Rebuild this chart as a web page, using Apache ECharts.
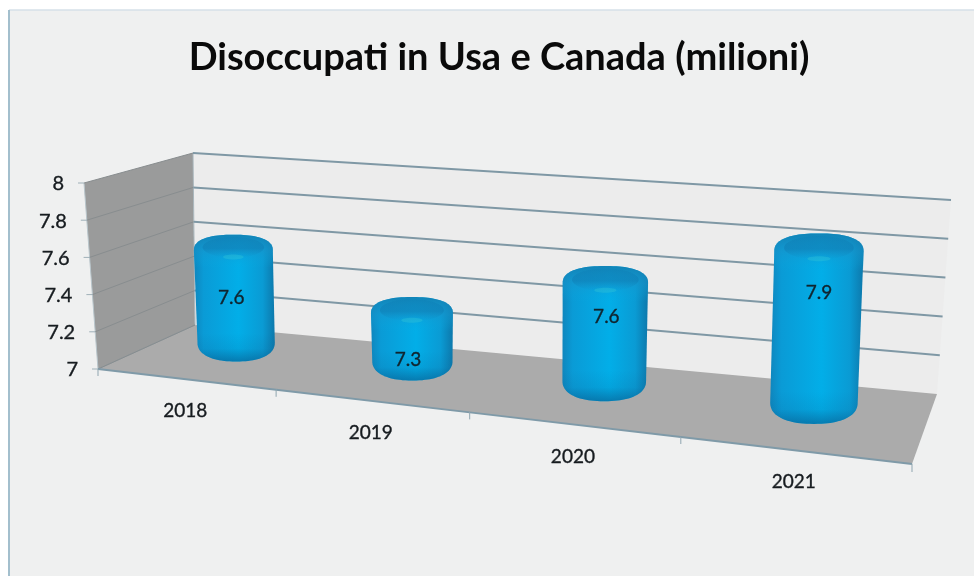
<!DOCTYPE html>
<html>
<head>
<meta charset="utf-8">
<style>html,body{margin:0;padding:0;background:#fff}#chart{width:974px;height:576px}</style>
<script src="https://cdn.jsdelivr.net/npm/echarts@6/dist/echarts.min.js"></script>
</head>
<body>
<div id="chart"></div>
<script>
// Chart content
const chartTitle = 'Disoccupati in Usa e Canada (milioni)';
const years = ['2018', '2019', '2020', '2021'];
const unemployed = [7.6, 7.3, 7.6, 7.9];
const valueTicks = [7, 7.2, 7.4, 7.6, 7.8, 8];
const valueTickLabels = ['7', '7.2', '7.4', '7.6', '7.8', '8'];

// Perspective box: corners of the front and back planes in screen space
const frontPlane = { bl: [98, 369], br: [912, 464], tl: [84, 183], tr: [914, 254] };
const backPlane = { bl: [195, 325], br: [937, 394], tl: [193, 153], tr: [951, 200] };
const foreshorten = 1.19;   // horizontal perspective along the value-axis planes
const barDepth = 0.57;      // where the cylinders stand between front and back
const barLift = 10;         // cylinders sit slightly raised on the floor
const barHeightScale = 0.85;
const barHalfWidth = 0.06;  // half width as a share of the whole category axis
const labelDrop = [47, 46, 34, 42];
const labelShift = [-2, -4, 1, 0];

const lerp = (a, b, t) => [a[0] + (b[0] - a[0]) * t, a[1] + (b[1] - a[1]) * t];
const warp = u => u / (u + foreshorten * (1 - u));

function project(u, v, d) {
  const w = warp(u);
  const onPlane = p => lerp(lerp(p.bl, p.br, w), lerp(p.tl, p.tr, w), v);
  return lerp(onPlane(frontPlane), onPlane(backPlane), d);
}

// Reads the axes' own scales and returns position as a share of the plot box
function unit(params, api, dataPoint) {
  const c = api.coord(dataPoint);
  const s = params.coordSys;
  return { u: (c[0] - s.x) / s.width, v: 1 - (c[1] - s.y) / s.height };
}

const fontFamily = 'Lato, "Open Sans", sans-serif';
const line = (a, b, stroke, width) => ({
  type: 'line',
  shape: { x1: a[0], y1: a[1], x2: b[0], y2: b[1] },
  style: { stroke, lineWidth: width }
});
const poly = (points, fill) => ({ type: 'polygon', shape: { points }, style: { fill } });
const label = (text, x, y, align, size, fill) => ({
  type: 'text',
  style: {
    text, x, y, align, verticalAlign: 'middle',
    font: 'normal ' + size + 'px ' + fontFamily,
    fill, stroke: fill, lineWidth: 0.35
  }
});

function renderBox() {
  return {
    type: 'group',
    children: [
      poly([project(0, 0, 0), project(0, 1, 0), project(0, 1, 1), project(0, 0, 1)], '#9a9b9b'),
      poly([project(0, 0, 1), project(0, 1, 1), project(1, 1, 1), project(1, 0, 1)], '#ececec'),
      poly([project(0, 0, 0), project(1, 0, 0), project(1, 0, 1), project(0, 0, 1)], '#ababab'),
      line(project(0, 1, 1), project(0, 0, 1), '#a9b6bc', 1),
      line(project(0, 0, 0), project(0, 1, 0), '#b9c6cc', 1),
      line(project(0, 0, 0), project(0, 0, 1), '#8d9aa0', 1)
    ]
  };
}

function renderValueTick(params, api) {
  const val = api.value(1);
  const p = unit(params, api, [0, val]);
  const a = project(0, p.v, 0);
  const b = project(0, p.v, 1);
  const c = project(1, p.v, 1);
  const children = [
    line(a, b, '#888d8f', 1),
    line([a[0] - 6, a[1]], a, '#9fb0b8', 1),
    label(valueTickLabels[params.dataIndex], a[0] - 20, a[1] + 1, 'right', 20, '#161b1f')
  ];
  if (val > valueTicks[0]) children.push(line(b, c, '#7f98a5', 2));
  return { type: 'group', children };
}

function renderCategory(params, api) {
  const p = unit(params, api, [api.value(0), 7]);
  const at = project(p.u, 0, 0);
  const step = 1 / years.length;
  const left = project(p.u - step / 2, 0, 0);
  const right = project(p.u + step / 2, 0, 0);
  const children = [
    line(left, right, '#7f9aa8', 2),
    line(left, [left[0], left[1] + 7], '#8fa5b0', 1),
    label(years[params.dataIndex], at[0], at[1] + 32, 'center', 19, '#161b1f')
  ];
  if (params.dataIndex === years.length - 1) {
    children.push(line(right, [right[0], right[1] + 8], '#8fa5b0', 1));
  }
  return { type: 'group', children };
}

// Half outline of a cap; squarish exponents give the cylinder its rounded shoulders
function capArc(cx, cy, rx, ry, exponent, upper) {
  const pts = [];
  for (let i = 0; i <= 48; i++) {
    const t = Math.PI * i / 48;
    const cos = Math.cos(t), sin = Math.sin(t);
    const x = Math.sign(cos) * Math.pow(Math.abs(cos), 2 / exponent);
    const y = Math.pow(sin, 2 / exponent);
    pts.push([cx - rx * x, cy + (upper ? -1 : 1) * ry * y]);
  }
  return upper ? pts : pts.reverse();
}

function renderBar(params, api) {
  const idx = api.value(0);
  const val = api.value(1);
  const base = unit(params, api, [idx, 7]);
  const top = unit(params, api, [idx, val]);
  const bottomPt = project(base.u, 0, barDepth);
  const topPt = project(top.u, top.v * barHeightScale, barDepth);
  const l = project(base.u - barHalfWidth, 0, barDepth);
  const r = project(base.u + barHalfWidth, 0, barDepth);
  // The cylinders widen more gently towards the viewer than the floor does
  const rx = 22 + 0.43 * (r[0] - l[0]) / 2;
  const bx = bottomPt[0], by = bottomPt[1] - barLift;
  const tx = topPt[0], ty = topPt[1] - barLift;
  const ryTop = rx * 0.4, ryBottom = rx * 0.48;

  const upper = capArc(tx, ty, rx, ryTop, 2.4, true);
  const lower = capArc(bx, by, rx * 0.98, ryBottom, 2.3, false);
  const outline = upper.concat(lower);
  const G = echarts.graphic.LinearGradient;

  const body = poly(outline, new G(0, 0, 1, 0, [
    { offset: 0, color: '#0f86bd' },
    { offset: 0.12, color: '#0a9bd6' },
    { offset: 0.55, color: '#02aee8' },
    { offset: 0.85, color: '#0a9bd4' },
    { offset: 1, color: '#0d78ab' }
  ]));
  // Shading that wraps under the base and around the shoulder
  const under = poly(
    [[bx + rx * 0.98, by - ryBottom * 0.5]].concat(lower).concat([[bx - rx * 0.98, by - ryBottom * 0.5]]),
    new G(0, 0, 0, 1, [
      { offset: 0, color: 'rgba(8,90,140,0)' },
      { offset: 0.55, color: 'rgba(8,90,140,0.12)' },
      { offset: 1, color: 'rgba(8,90,140,0.6)' }
    ])
  );
  const shoulder = poly(upper.concat([[tx + rx, ty + ryTop * 1.1], [tx - rx, ty + ryTop * 1.1]]), new G(0, 0, 0, 1, [
    { offset: 0, color: 'rgba(20,125,175,0.85)' },
    { offset: 0.5, color: 'rgba(22,150,205,0.55)' },
    { offset: 1, color: 'rgba(10,170,225,0)' }
  ]));
  const cap = {
    type: 'ellipse',
    shape: { cx: tx, cy: ty - ryTop * 0.2, rx: rx * 0.78, ry: ryTop * 0.66 },
    style: {
      fill: new G(0, 0, 0, 1, [
        { offset: 0, color: 'rgba(14,125,180,0.35)' },
        { offset: 0.55, color: 'rgba(14,125,180,0.55)' },
        { offset: 1, color: 'rgba(14,140,195,0)' }
      ])
    }
  };
  const glint = {
    type: 'ellipse',
    shape: { cx: tx, cy: ty + ryTop * 0.42, rx: rx * 0.26, ry: 2.5 },
    style: { fill: 'rgba(50,195,215,0.4)' }
  };
  const valueLabel = label(
    val.toFixed(1),
    tx + labelShift[params.dataIndex],
    ty + labelDrop[params.dataIndex],
    'center', 19, '#10242e'
  );
  return { type: 'group', children: [body, under, shoulder, cap, glint, valueLabel] };
}

const chart = echarts.init(document.getElementById('chart'), null, { renderer: 'canvas' });
chart.setOption({
  animation: false,
  backgroundColor: '#ffffff',
  title: {
    text: chartTitle,
    left: 494,
    top: 34,
    textAlign: 'center',
    textStyle: { fontFamily, fontWeight: 'bold', fontSize: 38, color: '#0a0a0a' }
  },
  graphic: {
    elements: [
      { type: 'rect', z: -10, shape: { x: 9, y: 10, width: 970, height: 570 }, style: { fill: '#eff0f0' } },
      { type: 'line', z: -9, shape: { x1: 9, y1: 10, x2: 974, y2: 10 }, style: { stroke: '#d6e0e8', lineWidth: 1.5 } },
      { type: 'line', z: -9, shape: { x1: 9, y1: 10, x2: 9, y2: 576 }, style: { stroke: '#a3bfcd', lineWidth: 2 } }
    ]
  },
  grid: { left: 0, right: 0, top: 0, bottom: 0 },
  xAxis: { type: 'category', data: years, show: false },
  yAxis: { type: 'value', min: 7, max: 8, interval: 0.2, show: false },
  tooltip: { show: false },
  series: [
    { type: 'custom', z: 1, silent: true, clip: false, data: [[0, 7]], renderItem: renderBox },
    {
      type: 'custom', z: 2, silent: true, clip: false,
      data: valueTicks.map(t => [0, t]), renderItem: renderValueTick
    },
    {
      type: 'custom', z: 3, silent: true, clip: false,
      data: years.map((y, i) => [i, 7]), renderItem: renderCategory
    },
    {
      type: 'custom', z: 4, silent: true, clip: false,
      data: unemployed.map((v, i) => [i, v]), renderItem: renderBar
    }
  ]
});
</script>
</body>
</html>
